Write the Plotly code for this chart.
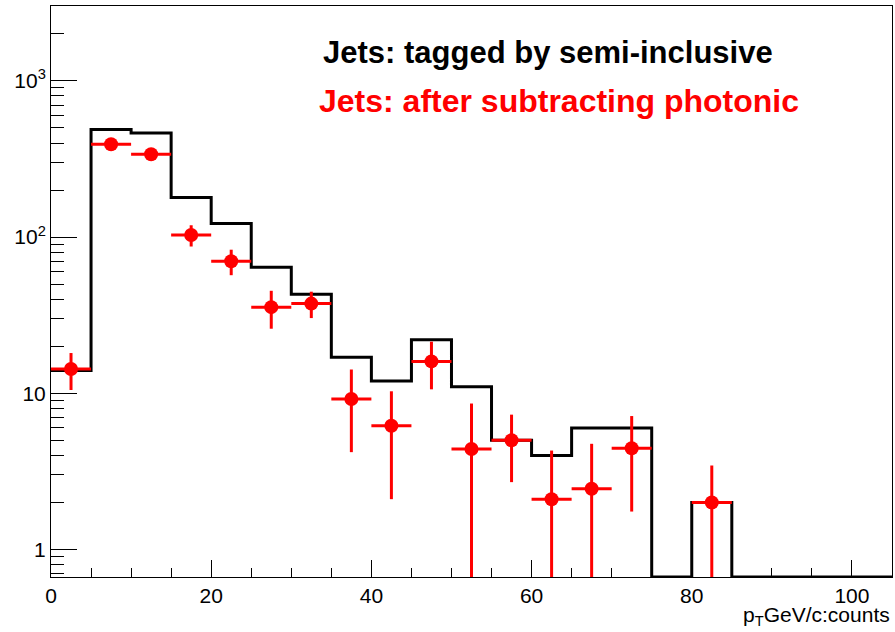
import plotly.graph_objects as go

# ---- data ----
bin_edges = [0, 5, 10, 15, 20, 25, 30, 35, 40, 45, 50, 55, 60, 65, 70, 75, 80, 85, 90, 95, 100, 105]
tagged_counts = [14, 488, 464, 179, 122, 64, 43, 17, 12, 22, 11, 5, 4, 6, 6, 0, 2, 0, 0, 0, 0]

sub_x = [2.5, 7.5, 12.5, 17.5, 22.5, 27.5, 32.5, 37.5, 42.5, 47.5, 52.5, 57.5, 62.5, 67.5, 72.5, 82.5]
sub_y = [14.3, 393, 339, 103, 70, 35.6, 37.5, 9.2, 6.2, 16.0, 4.4, 5.0, 2.1, 2.45, 4.45, 2.0]
sub_err = [3.8, 25, 23, 16, 13, 9.7, 7.2, 5.0, 4.1, 5.4, 4.2, 2.3, 2.2, 2.3, 2.7, 1.45]
sub_xerr = [2.5] * len(sub_x)

y_min, y_max = 0.667, 3013
x_min, x_max = 0, 105

label_black = "Jets: tagged by semi-inclusive"
label_red = "Jets: after subtracting photonic"
x_title = "p<sub>T</sub>GeV/c:counts"

y_major = [1, 10, 100, 1000]
y_major_text = ["1", "10", "10<sup>2</sup>", "10<sup>3</sup>"]
y_minor = [m * 10 ** k for k in range(-1, 4) for m in range(2, 10)
           if y_min <= m * 10 ** k <= y_max]

# ---- build figure ----
# empty bins are drawn along the axis floor, as ROOT does on a log scale
hist_y = [max(v, y_min) for v in tagged_counts] + [max(tagged_counts[-1], y_min)]
err_minus = [min(e, y - y_min) for y, e in zip(sub_y, sub_err)]

fig = go.Figure()
fig.add_trace(go.Scatter(
    x=bin_edges, y=hist_y, mode="lines", line_shape="hv",
    line=dict(color="black", width=3), showlegend=False, hoverinfo="skip"))
fig.add_trace(go.Scatter(
    x=sub_x, y=sub_y, mode="markers",
    marker=dict(color="#ff0000", size=14, symbol="circle"),
    error_y=dict(type="data", array=sub_err, arrayminus=err_minus,
                 color="#ff0000", thickness=3, width=0),
    error_x=dict(type="data", array=sub_xerr, color="#ff0000", thickness=3, width=0),
    showlegend=False))

font_main = "Liberation Sans, Arial, sans-serif"

fig.update_layout(
    width=895, height=632,
    margin=dict(l=51, r=3, t=6, b=55),
    paper_bgcolor="white", plot_bgcolor="white",
    font=dict(family=font_main, size=21, color="black"),
    xaxis=dict(range=[x_min, x_max], showgrid=False, zeroline=False,
               showline=True, linecolor="black", linewidth=1, mirror=True,
               ticks="inside", ticklen=17, tickwidth=1, tickcolor="black",
               dtick=20, tick0=0,
               minor=dict(ticks="inside", ticklen=9, dtick=5, tick0=0,
                          tickcolor="black", tickwidth=1, showgrid=False),
               tickfont=dict(size=21)),
    yaxis=dict(type="log", range=[-0.1759, 3.479], showgrid=False, zeroline=False,
               showline=True, linecolor="black", linewidth=1, mirror=True,
               ticks="inside", ticklen=26, tickwidth=1, tickcolor="black",
               tickmode="array", tickvals=y_major, ticktext=y_major_text,
               minor=dict(ticks="inside", ticklen=13, tickmode="array",
                          tickvals=y_minor, tickcolor="black", tickwidth=1,
                          showgrid=False),
               tickfont=dict(size=21)),
    annotations=[
        dict(text="<b>" + label_black + "</b>", xref="paper", yref="paper",
             x=0.321, y=0.919, xanchor="left", yanchor="middle", showarrow=False,
             font=dict(size=31, color="black", family=font_main)),
        dict(text="<b>" + label_red + "</b>", xref="paper", yref="paper",
             x=0.3165, y=0.833, xanchor="left", yanchor="middle", showarrow=False,
             font=dict(size=32, color="#ff0000", family=font_main)),
        dict(text=x_title, xref="paper", yref="paper",
             x=1.0, y=-0.068, xanchor="right", yanchor="middle", showarrow=False,
             font=dict(size=21, color="black", family=font_main)),
    ],
)

fig.write_html("out.html",
               config={"displayModeBar": False},
               post_script="document.body.style.margin='0';document.body.style.overflow='hidden';")
